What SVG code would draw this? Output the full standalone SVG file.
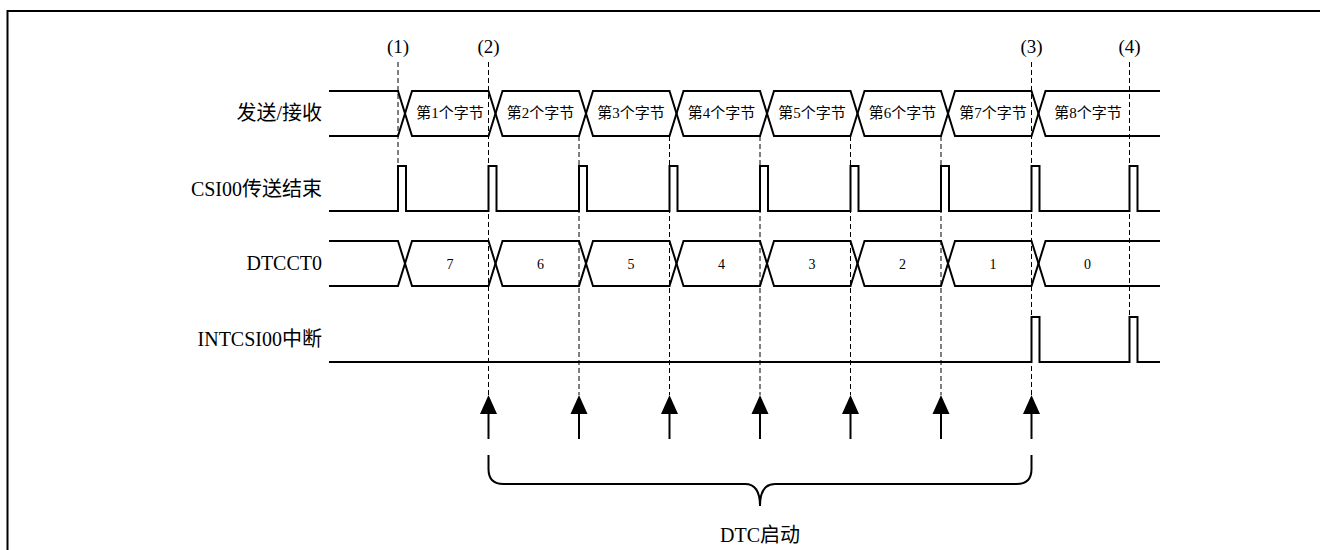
<svg xmlns="http://www.w3.org/2000/svg" width="1320" height="550" viewBox="0 0 1320 550">
<defs>
<style>
.frame{fill:none;stroke:#000;stroke-width:2}
.sig{fill:none;stroke:#000;stroke-width:2;stroke-linejoin:miter}
.dash{fill:none;stroke:#000;stroke-width:1;stroke-dasharray:5,3}
.arr{fill:none;stroke:#000;stroke-width:2}
.head{fill:#000;stroke:none}
text{font-family:"Liberation Serif","Noto Sans CJK SC",serif;fill:#000}
.lbl{font-size:20px;text-anchor:end}
.mk{font-size:19px;text-anchor:middle}
.byte{font-size:15px;text-anchor:middle}
.num{font-size:14px;text-anchor:middle}
.cap{font-size:20px;text-anchor:middle}
</style>
</defs>
<path class="frame" d="M7.5,551 V11 H1321"/>

<g id="markers">
<text class="mk" x="398" y="53">(1)</text>
<text class="mk" x="488.5" y="53">(2)</text>
<text class="mk" x="1031.5" y="53">(3)</text>
<text class="mk" x="1129.5" y="53">(4)</text>
</g>

<g id="connectors">
<line class="dash" x1="398" y1="62" x2="398" y2="166"/>
<line class="dash" x1="488.5" y1="62" x2="488.5" y2="395"/>
<line class="dash" x1="579" y1="136" x2="579" y2="395"/>
<line class="dash" x1="669.5" y1="136" x2="669.5" y2="395"/>
<line class="dash" x1="760" y1="136" x2="760" y2="395"/>
<line class="dash" x1="850.5" y1="136" x2="850.5" y2="395"/>
<line class="dash" x1="941" y1="136" x2="941" y2="395"/>
<line class="dash" x1="1031.5" y1="62" x2="1031.5" y2="395"/>
<line class="dash" x1="1129.5" y1="62" x2="1129.5" y2="317"/>
<g id="dtc-arrows">
<line class="arr" x1="488.5" y1="410" x2="488.5" y2="439"/><path class="head" d="M488.5,395 L497,414 L480,414 Z"/>
<line class="arr" x1="579" y1="410" x2="579" y2="439"/><path class="head" d="M579,395 L587.5,414 L570.5,414 Z"/>
<line class="arr" x1="669.5" y1="410" x2="669.5" y2="439"/><path class="head" d="M669.5,395 L678,414 L661,414 Z"/>
<line class="arr" x1="760" y1="410" x2="760" y2="439"/><path class="head" d="M760,395 L768.5,414 L751.5,414 Z"/>
<line class="arr" x1="850.5" y1="410" x2="850.5" y2="439"/><path class="head" d="M850.5,395 L859,414 L842,414 Z"/>
<line class="arr" x1="941" y1="410" x2="941" y2="439"/><path class="head" d="M941,395 L949.5,414 L932.5,414 Z"/>
<line class="arr" x1="1031.5" y1="410" x2="1031.5" y2="439"/><path class="head" d="M1031.5,395 L1040,414 L1023,414 Z"/>
</g>
</g>

<g id="sig-txrx">
<text class="lbl" x="322" y="120">发送/接收</text>
<path class="sig" d="M329,91 H398 L412,136 H488.5 L502.5,91 H579 L593,136 H669.5 L683.5,91 H760 L774,136 H850.5 L864.5,91 H941 L955,136 H1031.5 L1045.5,91 H1160"/>
<path class="sig" d="M329,136 H398 L412,91 H488.5 L502.5,136 H579 L593,91 H669.5 L683.5,136 H760 L774,91 H850.5 L864.5,136 H941 L955,91 H1031.5 L1045.5,136 H1160"/>
<text class="byte" x="450" y="118">第1个字节</text>
<text class="byte" x="540.5" y="118">第2个字节</text>
<text class="byte" x="631" y="118">第3个字节</text>
<text class="byte" x="721.5" y="118">第4个字节</text>
<text class="byte" x="812" y="118">第5个字节</text>
<text class="byte" x="902.5" y="118">第6个字节</text>
<text class="byte" x="993" y="118">第7个字节</text>
<text class="byte" x="1088" y="118">第8个字节</text>
</g>

<g id="sig-csi00end">
<text class="lbl" x="322" y="196">CSI00传送结束</text>
<path class="sig" d="M329,211 H398 V166 H406 V211 H488.5 V166 H496.5 V211 H579 V166 H587 V211 H669.5 V166 H677.5 V211 H760 V166 H768 V211 H850.5 V166 H858.5 V211 H941 V166 H949 V211 H1031.5 V166 H1039.5 V211 H1129.5 V166 H1137.5 V211 H1160"/>
</g>

<g id="sig-dtcct0">
<text class="lbl" x="322" y="270">DTCCT0</text>
<path class="sig" d="M329,241 H398 L412,286 H488.5 L502.5,241 H579 L593,286 H669.5 L683.5,241 H760 L774,286 H850.5 L864.5,241 H941 L955,286 H1031.5 L1045.5,241 H1160"/>
<path class="sig" d="M329,286 H398 L412,241 H488.5 L502.5,286 H579 L593,241 H669.5 L683.5,286 H760 L774,241 H850.5 L864.5,286 H941 L955,241 H1031.5 L1045.5,286 H1160"/>
<text class="num" x="450" y="268.5">7</text>
<text class="num" x="540.5" y="268.5">6</text>
<text class="num" x="631" y="268.5">5</text>
<text class="num" x="721.5" y="268.5">4</text>
<text class="num" x="812" y="268.5">3</text>
<text class="num" x="902.5" y="268.5">2</text>
<text class="num" x="993" y="268.5">1</text>
<text class="num" x="1087.5" y="268.5">0</text>
</g>

<g id="sig-intcsi00">
<text class="lbl" x="322" y="346">INTCSI00中断</text>
<path class="sig" d="M329,362 H1031.5 V317 H1039.5 V362 H1129.5 V317 H1137.5 V362 H1160"/>
</g>

<g id="dtc-start">
<path class="sig" d="M488.5,455 V469 Q488.5,484 503.5,484 H745 Q760,484 760,506 Q760,484 775,484 H1016.5 Q1031.5,484 1031.5,469 V455"/>
<text class="cap" x="760" y="542">DTC启动</text>
</g>
</svg>
